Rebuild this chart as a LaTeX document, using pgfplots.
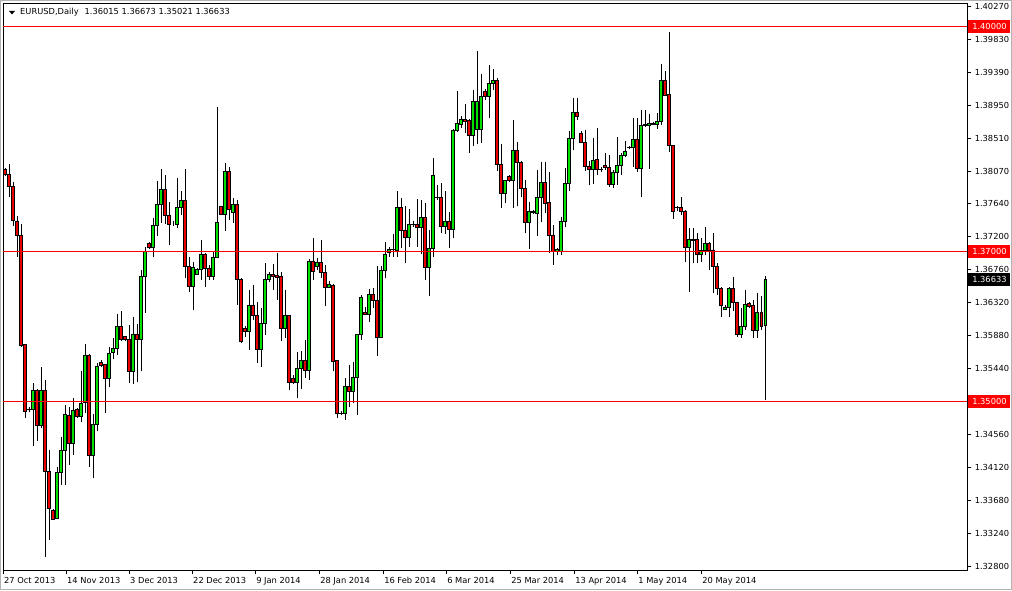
\documentclass[border=0pt]{standalone}
\usepackage{pgfplots}
\pgfplotsset{compat=1.18}
\usepackage{pgfplotstable}
\usepackage{fontspec}
\setmainfont{DejaVu Sans}
\newcommand\lab{\fontsize{8.3}{10}\selectfont}
\definecolor{bull}{RGB}{0,225,0}
\definecolor{bear}{RGB}{235,0,0}
\definecolor{lvl}{RGB}{255,0,0}

% daily bars, EURUSD, 27 Oct 2013 - 5 Jun 2014
\pgfplotstableread{
x o h l c
0 1.38095 1.3811 1.3800 1.38033
1 1.38033 1.38166 1.37731 1.37864
2 1.37873 1.3793 1.3734 1.37411
3 1.37407 1.3747 1.3693 1.37211
4 1.37215 1.3737 1.3573 1.35753
5 1.35766 1.3577 1.3478 1.34864
6 1.3490 1.3493 1.3486 1.3489
7 1.34895 1.3524 1.3440 1.35144
8 1.35144 1.3516 1.3447 1.34686
9 1.34686 1.3546 1.3464 1.35153
10 1.35153 1.3529 1.3293 1.34064
11 1.34064 1.3435 1.3315 1.33575
12 1.33553 1.3357 1.3342 1.33433
13 1.33442 1.3413 1.3344 1.34051
14 1.34051 1.3453 1.3389 1.34353
15 1.34353 1.3495 1.3389 1.34833
16 1.34820 1.3493 1.3415 1.34442
17 1.34442 1.3504 1.3429 1.34886
18 1.34895 1.3491 1.3478 1.34797
19 1.34797 1.3540 1.3472 1.34975
20 1.34984 1.3576 1.3485 1.35620
21 1.35620 1.3563 1.3413 1.34277
22 1.34277 1.3484 1.3398 1.34700
23 1.34695 1.3551 1.3460 1.35473
24 1.35526 1.3555 1.3546 1.35486
25 1.35495 1.3550 1.3485 1.35309
26 1.35309 1.3573 1.3519 1.35642
27 1.35651 1.3584 1.3556 1.35709
28 1.35709 1.3617 1.3562 1.36006
29 1.36006 1.3621 1.3580 1.35828
30 1.35868 1.3587 1.3580 1.35828
31 1.35828 1.3602 1.3524 1.35397
32 1.35397 1.3612 1.3523 1.35900
33 1.35900 1.3603 1.3526 1.35828
34 1.35828 1.3675 1.3541 1.36673
35 1.36673 1.3706 1.3618 1.36997
36 1.37108 1.3713 1.3703 1.37051
37 1.37055 1.3744 1.3692 1.37353
38 1.37344 1.3794 1.3720 1.37631
39 1.37629 1.3810 1.3738 1.37829
40 1.37829 1.3802 1.3736 1.37478
41 1.37487 1.3766 1.3708 1.37354
42 1.37372 1.3740 1.3734 1.37372
43 1.37354 1.3798 1.3731 1.37589
44 1.37589 1.3780 1.3749 1.37674
45 1.37674 1.3810 1.3665 1.36798
46 1.36798 1.3692 1.3646 1.36531
47 1.36531 1.3686 1.3622 1.36789
48 1.36700 1.3678 1.3669 1.36762
49 1.36762 1.3715 1.3662 1.36954
50 1.36954 1.3698 1.3653 1.36776
51 1.36776 1.3682 1.3662 1.36665
52 1.36665 1.3700 1.3662 1.36923
53 1.36918 1.3893 1.3691 1.37389
54 1.37598 1.3761 1.3749 1.37496
55 1.37496 1.3818 1.3727 1.38065
56 1.38065 1.3813 1.3742 1.37562
57 1.37522 1.3771 1.3738 1.37629
58 1.37629 1.3769 1.3629 1.36633
59 1.36633 1.3665 1.3578 1.35797
60 1.35975 1.3600 1.3586 1.35931
61 1.35931 1.3649 1.3569 1.36286
62 1.36286 1.3655 1.3609 1.36153
63 1.36153 1.3633 1.3551 1.35695
64 1.35695 1.3624 1.3546 1.36042
65 1.36042 1.3684 1.3589 1.36633
66 1.36633 1.3672 1.3659 1.36695
67 1.36695 1.3683 1.3649 1.36664
68 1.36677 1.3698 1.3635 1.36651
69 1.36664 1.3673 1.3580 1.35975
70 1.35975 1.3649 1.3585 1.36144
71 1.36144 1.3615 1.3515 1.35255
72 1.35309 1.3535 1.3523 1.35255
73 1.35255 1.3566 1.3505 1.35442
74 1.35442 1.3567 1.3517 1.35553
75 1.35553 1.3582 1.3531 1.35411
76 1.35411 1.3690 1.3529 1.36873
77 1.36873 1.3718 1.3662 1.36740
78 1.36797 1.3691 1.3675 1.36855
79 1.36855 1.3715 1.3664 1.36722
80 1.36722 1.3682 1.3627 1.36517
81 1.36517 1.3660 1.3651 1.36562
82 1.36553 1.3656 1.3540 1.35540
83 1.35553 1.3555 1.3478 1.34842
84 1.34842 1.3487 1.3482 1.34845
85 1.34842 1.3531 1.3475 1.35197
86 1.35197 1.3549 1.3492 1.35131
87 1.35131 1.3553 1.3498 1.35317
88 1.35317 1.3590 1.3482 1.35895
89 1.35895 1.3642 1.3582 1.36384
90 1.36188 1.3626 1.3616 1.36162
91 1.36162 1.3650 1.3606 1.36429
92 1.36429 1.3651 1.3625 1.36353
93 1.36353 1.3680 1.3560 1.35851
94 1.35851 1.3681 1.3584 1.36753
95 1.36753 1.3713 1.3664 1.36962
96 1.36989 1.3706 1.3693 1.37033
97 1.37022 1.3723 1.3693 1.37033
98 1.37016 1.3780 1.3693 1.37589
99 1.37589 1.3771 1.3705 1.37278
100 1.37287 1.3761 1.3684 1.37185
101 1.37185 1.3757 1.3706 1.37362
102 1.37362 1.3741 1.3733 1.37365
103 1.37367 1.3770 1.3706 1.37318
104 1.37318 1.3769 1.3696 1.37451
105 1.37451 1.3764 1.3662 1.36784
106 1.36784 1.3729 1.3641 1.37042
107 1.37042 1.3824 1.3692 1.38020
108 1.37722 1.3788 1.3769 1.37725
109 1.37722 1.3791 1.3724 1.37331
110 1.37331 1.3780 1.3723 1.37407
111 1.37407 1.3753 1.3705 1.37300
112 1.37300 1.3863 1.3718 1.38620
113 1.38620 1.3914 1.3859 1.38709
114 1.38695 1.3880 1.3865 1.38766
115 1.38766 1.3896 1.3858 1.38740
116 1.38753 1.3876 1.3831 1.38544
117 1.38544 1.3915 1.3841 1.39006
118 1.38629 1.3967 1.3843 1.39006
119 1.38629 1.3937 1.3844 1.39064
120 1.39140 1.3917 1.3902 1.39064
121 1.39064 1.3949 1.3878 1.39242
122 1.39242 1.3943 1.3915 1.39286
123 1.39286 1.3931 1.3807 1.38162
124 1.38162 1.3843 1.3758 1.37775
125 1.37775 1.3795 1.3764 1.37953
126 1.37997 1.3802 1.3792 1.37953
127 1.37953 1.3875 1.3758 1.38353
128 1.38353 1.3846 1.3760 1.38189
129 1.38189 1.3821 1.3772 1.37842
130 1.37842 1.3795 1.3724 1.37389
131 1.37389 1.3766 1.3703 1.37540
132 1.37531 1.3755 1.3750 1.37520
133 1.37509 1.3809 1.3720 1.37718
134 1.37718 1.3819 1.3739 1.37922
135 1.37922 1.3819 1.3751 1.37642
136 1.37656 1.3806 1.3698 1.37220
137 1.37220 1.3735 1.3682 1.37007
138 1.36998 1.3704 1.3695 1.37029
139 1.37007 1.3746 1.3695 1.37407
140 1.37407 1.3811 1.3733 1.37909
141 1.37909 1.3860 1.3780 1.38509
142 1.38509 1.3905 1.3835 1.38856
143 1.38856 1.3904 1.3875 1.38798
144 1.38576 1.3861 1.3844 1.38456
145 1.38456 1.3862 1.3807 1.38131
146 1.38140 1.3820 1.3788 1.38096
147 1.38096 1.3851 1.3790 1.38220
148 1.38233 1.3864 1.3802 1.38096
149 1.38096 1.3812 1.3806 1.38099
150 1.38153 1.3831 1.3809 1.38118
151 1.38118 1.3829 1.3786 1.37896
152 1.37896 1.3809 1.3784 1.38056
153 1.38056 1.3853 1.3789 1.38153
154 1.38153 1.3831 1.3802 1.38287
155 1.38287 1.3847 1.3826 1.38340
156 1.38384 1.3841 1.3837 1.38387
157 1.38384 1.3878 1.3813 1.38500
158 1.38500 1.3878 1.3806 1.38109
159 1.38109 1.3889 1.3772 1.38678
160 1.38678 1.3889 1.3866 1.38696
161 1.38687 1.3883 1.3810 1.38709
162 1.38696 1.3872 1.3868 1.38709
163 1.38696 1.3884 1.3863 1.38740
164 1.38740 1.3950 1.3869 1.39287
165 1.39287 1.3940 1.3908 1.39087
166 1.39096 1.3993 1.3832 1.38411
167 1.38411 1.3841 1.3743 1.37540
168 1.37584 1.3760 1.3754 1.37587
169 1.37584 1.3773 1.3748 1.37540
170 1.37540 1.3755 1.3686 1.37056
171 1.37056 1.3731 1.3646 1.37167
172 1.37167 1.3731 1.3684 1.37145
173 1.37154 1.3724 1.3684 1.36962
174 1.36962 1.3718 1.3686 1.37020
175 1.37020 1.3732 1.3695 1.37109
176 1.37109 1.3713 1.3675 1.37020
177 1.37020 1.3724 1.3644 1.36798
178 1.36798 1.3684 1.3642 1.36509
179 1.36509 1.3653 1.3613 1.36278
180 1.36229 1.3629 1.3622 1.36256
181 1.36256 1.3653 1.3613 1.36509
182 1.36509 1.3666 1.3620 1.36322
183 1.36322 1.3632 1.3586 1.35896
184 1.35896 1.3624 1.3584 1.35998
185 1.35998 1.3649 1.3595 1.36296
186 1.36309 1.3632 1.3624 1.36265
187 1.36278 1.3635 1.3585 1.35953
188 1.35953 1.3644 1.3585 1.36189
189 1.36189 1.3640 1.3595 1.35998
190 1.36015 1.36673 1.35021 1.36633
}\candles

\pgfplotsset{
  chartbox/.style={
    at={(3pt,20pt)}, anchor=south west,
    scale only axis,
    width=964pt, height=567pt,
    xmin=-0.5, xmax=240.5,
    ymin=1.327533, ymax=1.403133,
  },
}

\begin{document}
\begin{tikzpicture}
\useasboundingbox (0pt,0pt) rectangle (1012pt,590pt);
\draw[black!30] (0.5pt,0.5pt) rectangle (1011.5pt,589.5pt);
% frame, ticks, level lines, wicks
\begin{axis}[
    chartbox,
    axis line style={black, line width=0.9pt},
    tick align=outside,
    major tick length=4pt,
    tick style={black, line width=0.8pt},
    xtick pos=bottom, ytick pos=right,
    xtick={-0.5,15.25,31,46.75,62.5,78.5,94.5,110.25,126.25,142.25,158,174},
    xticklabels={27 Oct 2013,14 Nov 2013,3 Dec 2013,22 Dec 2013,9 Jan 2014,28 Jan 2014,16 Feb 2014,6 Mar 2014,25 Mar 2014,13 Apr 2014,1 May 2014,20 May 2014},
    ytick={1.40270,1.39830,1.39390,1.38950,1.38510,1.38070,1.37640,1.37200,1.36760,1.36320,1.35880,1.35440,1.35000,1.34560,1.34120,1.33680,1.33240,1.32800},
    yticklabels={1.40270,1.39830,1.39390,1.38950,1.38510,1.38070,1.37640,1.37200,1.36760,1.36320,1.35880,1.35440,{},1.34560,1.34120,1.33680,1.33240,1.32800},
    xticklabel style={font=\lab, anchor=north west, inner xsep=0pt, xshift=1pt},
    yticklabel style={font=\lab, anchor=west},
    extra y ticks={1.40,1.37,1.35},
    extra y tick labels={},
    extra y tick style={grid=major, major grid style={draw=lvl, line width=1pt}, major tick length=0pt},
]
\addplot[black, draw=none, mark=none, forget plot,
    error bars/.cd, y dir=plus, y explicit, error mark=none,
    error bar style={draw=black, line width=1pt}]
  table[x=x, y=l, y error plus expr=\thisrow{h}-\thisrow{l}] {\candles};
\coordinate (lvA0) at (axis cs:-0.5,1.40);
\coordinate (lvB0) at (axis cs:-0.5,1.37);
\coordinate (lvC0) at (axis cs:-0.5,1.35);
\coordinate (lvA) at (axis cs:240.5,1.40);
\coordinate (lvB) at (axis cs:240.5,1.37);
\coordinate (lvC) at (axis cs:240.5,1.35);
\coordinate (lvD) at (axis cs:240.5,1.36633);
\end{axis}
% bodies: invisible base + bullish / bearish part, stacked
\begin{axis}[
    chartbox, hide axis,
    ybar stacked, bar width=2.5pt,
]
\addplot[draw=none, fill=none] table[x=x, y expr={min(\thisrow{o},\thisrow{c})}] {\candles};
\addplot[fill=bull, draw=black, line width=0.9pt]
  table[x=x, y expr={max(\thisrow{c}-\thisrow{o},0)}] {\candles};
\addplot[fill=bear, draw=black, line width=0.9pt]
  table[x=x, y expr={max(\thisrow{o}-\thisrow{c},0)}] {\candles};
\end{axis}
% level lines (filled strips over the grid lines), each followed by its price tag
\foreach \a/\b/\t in {lvA0/lvA/1.40000, lvB0/lvB/1.37000, lvC0/lvC/1.35000}{
  \node[anchor=west, fill=lvl, text=white, inner sep=0pt, outer sep=0pt,
        minimum width=964pt, minimum height=1.2pt] at (\a) {};
  \node[anchor=west, fill=lvl, text=white, font=\lab, inner xsep=3.5pt, inner ysep=0pt,
        minimum height=13pt, minimum width=42pt] at ([xshift=1pt]\b) {\t};
}
\node[anchor=west, fill=black, text=white, font=\lab, inner xsep=3.5pt, inner ysep=0pt,
      minimum height=13pt, minimum width=42pt] at ([xshift=1pt]lvD) {1.36633};
% header
\fill (9pt,579pt) -- (15pt,579pt) -- (12pt,575.5pt) -- cycle;
\node[anchor=west, font=\lab, inner xsep=0pt] at (20pt,577.3pt)
  {EURUSD,Daily\hspace{6pt}1.36015 1.36673 1.35021 1.36633};
\end{tikzpicture}
\end{document}
